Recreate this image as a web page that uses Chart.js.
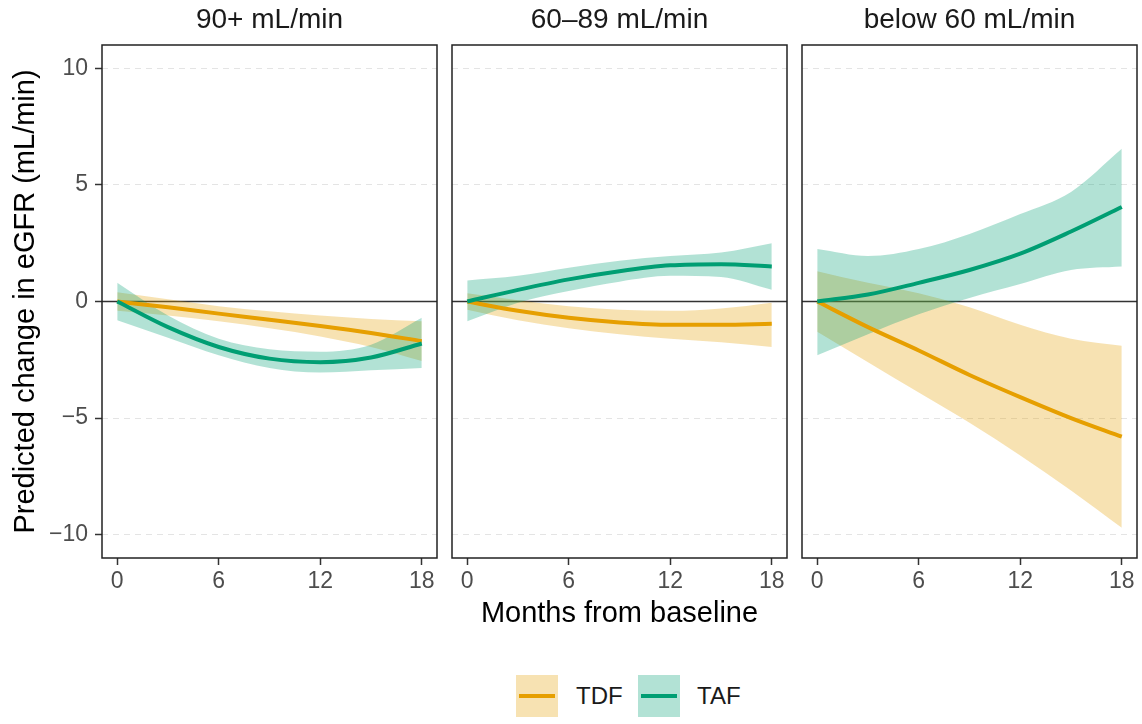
<!DOCTYPE html>
<html>
<head>
<meta charset="utf-8">
<script src="https://cdn.jsdelivr.net/npm/chart.js@4"></script>
<style>
  body { margin: 0; background: #fff; font-family: "Liberation Sans", Arial, sans-serif; }
  #wrap { position: relative; width: 1142px; height: 724px; overflow: hidden; }
  canvas { position: absolute; top: 0; }
  .xtitle { position: absolute; left: 0; width: 1239px; top: 594px; text-align: center; font-size: 29px; line-height: 36px; color: #000; }
  .key { position: absolute; top: 675px; width: 42px; height: 42px; }
  .key span { position: absolute; left: 3px; top: 19px; width: 36px; height: 4px; }
  .ktext { position: absolute; top: 680px; font-size: 24px; line-height: 32px; color: #1a1a1a; }
</style>
</head>
<body>
<div id="wrap">
  <canvas id="p1" width="441" height="598" style="left:0px"></canvas>
  <canvas id="p2" width="351" height="598" style="left:440px"></canvas>
  <canvas id="p3" width="351" height="598" style="left:790px"></canvas>
  <div class="xtitle">Months from baseline</div>
  <div class="key" style="left:516px;background:rgba(230,159,0,0.3)"><span style="background:#E69F00"></span></div>
  <div class="ktext" style="left:576px">TDF</div>
  <div class="key" style="left:638px;background:rgba(0,158,115,0.3)"><span style="background:#009E73"></span></div>
  <div class="ktext" style="left:697px">TAF</div>
</div>
<script>
const months = [0, 3, 6, 9, 12, 15, 18];
const panelTitles = ['90+ mL/min', '60–89 mL/min', 'below 60 mL/min'];
const xTicks = [0, 6, 12, 18];
const yTicks = [-10, -5, 0, 5, 10];
const zeroLine = 0;

// 90+ mL/min
const tdfFit90 = [0, -0.25, -0.52, -0.78, -1.05, -1.35, -1.7];
const tdfHi90  = [0.4, 0.1, -0.2, -0.42, -0.6, -0.75, -0.85];
const tdfLo90  = [-0.4, -0.6, -0.85, -1.15, -1.5, -1.95, -2.55];
const tafFit90 = [0, -1.1, -1.95, -2.45, -2.6, -2.4, -1.8];
const tafHi90  = [0.8, -0.6, -1.6, -2.05, -2.15, -1.85, -0.7];
const tafLo90  = [-0.8, -1.55, -2.3, -2.85, -3.05, -2.95, -2.85];

// 60-89 mL/min
const tdfFit60 = [0, -0.4, -0.7, -0.9, -1.0, -1.0, -0.95];
const tdfHi60  = [0.35, 0.05, -0.2, -0.35, -0.4, -0.3, -0.05];
const tdfLo60  = [-0.35, -0.8, -1.15, -1.4, -1.6, -1.75, -1.95];
const tafFit60 = [0, 0.5, 0.95, 1.3, 1.55, 1.6, 1.5];
const tafHi60  = [0.9, 1.1, 1.45, 1.75, 1.95, 2.1, 2.5];
const tafLo60  = [-0.85, -0.05, 0.45, 0.85, 1.1, 1.05, 0.5];

// below 60 mL/min
const tdfFitLow = [0, -1.1, -2.1, -3.15, -4.1, -5.0, -5.8];
const tdfHiLow  = [1.3, 0.8, 0.35, -0.25, -1.0, -1.6, -1.9];
const tdfLoLow  = [-1.3, -2.6, -3.9, -5.2, -6.6, -8.1, -9.7];
const tafFitLow = [0, 0.3, 0.8, 1.35, 2.05, 3.0, 4.05];
const tafHiLow  = [2.25, 1.95, 2.25, 2.9, 3.75, 4.7, 6.55];
const tafLoLow  = [-2.3, -1.4, -0.55, 0.15, 0.75, 1.35, 1.5];

const FONT = '"Liberation Sans", Arial, sans-serif';
const TDF_COLOR = '#E69F00', TDF_FILL = 'rgba(230,159,0,0.3)';
const TAF_COLOR = '#009E73', TAF_FILL = 'rgba(0,158,115,0.3)';

function pts(vals) {
  return vals.map((v, i) => ({ x: months[i], y: v }));
}

function band(vals, color, fill, order) {
  return { data: pts(vals), borderWidth: 0, pointRadius: 0, backgroundColor: color,
           fill: fill, order: order, cubicInterpolationMode: 'monotone' };
}

function line(vals, color, order) {
  return { data: pts(vals), borderColor: color, borderWidth: 4, pointRadius: 0,
           fill: false, order: order, cubicInterpolationMode: 'monotone' };
}

// ggplot-style minus sign on negative ticks
const fmt = v => (v < 0 ? '\u2212' + Math.abs(v) : String(v));

// panel border + horizontal reference line at 0
const frame = {
  id: 'frame',
  beforeDatasetsDraw(chart) {
    const { ctx, chartArea: a, scales } = chart;
    const y0 = scales.y.getPixelForValue(zeroLine);
    ctx.save();
    ctx.strokeStyle = '#333';
    ctx.lineWidth = 1.5;
    ctx.beginPath();
    ctx.moveTo(a.left, y0);
    ctx.lineTo(a.right, y0);
    ctx.stroke();
    ctx.restore();
  },
  afterDraw(chart) {
    const { ctx, chartArea: a } = chart;
    ctx.save();
    ctx.strokeStyle = '#222';
    ctx.lineWidth = 1.5;
    ctx.strokeRect(a.left, a.top, a.right - a.left, a.bottom - a.top);
    ctx.restore();
  }
};

function makePanel(id, title, tdf, taf, showY) {
  const yW = showY ? 102 : 12;
  return new Chart(document.getElementById(id), {
    type: 'line',
    data: {
      datasets: [
        band(tdf[1], TDF_FILL, '+1', 3), band(tdf[2], TDF_FILL, false, 3),
        band(taf[1], TAF_FILL, '+1', 2), band(taf[2], TAF_FILL, false, 2),
        line(tdf[0], TDF_COLOR, 1), line(taf[0], TAF_COLOR, 0)
      ]
    },
    options: {
      responsive: false,
      animation: false,
      events: [],
      layout: { padding: { left: 0, right: 4, top: 0, bottom: 0 } },
      plugins: {
        legend: { display: false },
        tooltip: { enabled: false },
        title: {
          display: true, text: title, fullSize: false, color: '#1a1a1a',
          font: { size: 28, family: FONT, weight: 'normal' },
          padding: { top: 3, bottom: 8.4 }
        }
      },
      scales: {
        x: {
          type: 'linear', min: -0.9, max: 18.9,
          afterBuildTicks: s => { s.ticks = xTicks.map(v => ({ value: v })); },
          afterFit: s => { s.height = 40; },
          grid: { drawOnChartArea: false, drawTicks: true, tickLength: 7, tickColor: '#333', tickWidth: 1.5 },
          border: { display: false },
          ticks: { color: '#4d4d4d', font: { size: 23, family: FONT }, padding: 3, maxRotation: 0, autoSkip: false }
        },
        y: {
          type: 'linear', min: -11, max: 11,
          afterBuildTicks: s => { s.ticks = yTicks.map(v => ({ value: v })); },
          afterFit: s => { s.width = yW; },
          grid: { color: '#e4e4e4', lineWidth: 1, drawTicks: showY, tickLength: 7, tickColor: '#333', tickWidth: 1.5 },
          border: { display: false, dash: [6, 5] },
          ticks: { display: showY, color: '#4d4d4d', font: { size: 23, family: FONT }, padding: 7, callback: fmt },
          title: {
            display: showY, text: 'Predicted change in eGFR (mL/min)', color: '#000',
            font: { size: 29, family: FONT }, padding: { top: 9, bottom: 0 }
          }
        }
      }
    },
    plugins: [frame]
  });
}

makePanel('p1', panelTitles[0], [tdfFit90, tdfHi90, tdfLo90], [tafFit90, tafHi90, tafLo90], true);
makePanel('p2', panelTitles[1], [tdfFit60, tdfHi60, tdfLo60], [tafFit60, tafHi60, tafLo60], false);
makePanel('p3', panelTitles[2], [tdfFitLow, tdfHiLow, tdfLoLow], [tafFitLow, tafHiLow, tafLoLow], false);
</script>
</body>
</html>
